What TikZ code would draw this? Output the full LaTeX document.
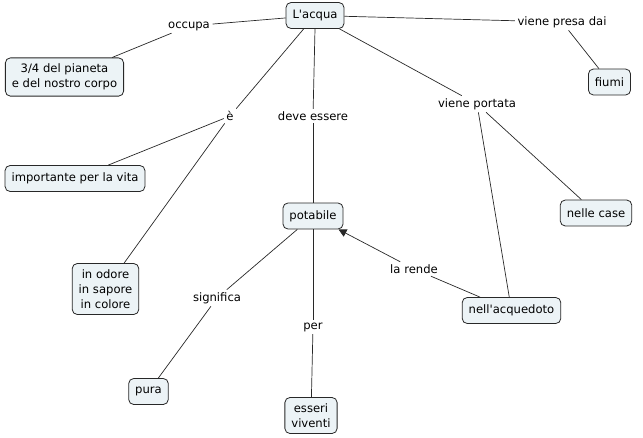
\documentclass[tikz,border=0pt]{standalone}
\usepackage{fontspec}
\setmainfont{DejaVu Sans}[Ligatures=TeXOff]
\usetikzlibrary{arrows.meta}
\definecolor{boxfill}{RGB}{236,243,246}
\definecolor{linecol}{RGB}{40,40,40}
\begin{document}
\begin{tikzpicture}[x=1pt,y=-1pt,
  concept/.style={draw=linecol, fill=boxfill, rounded corners=5pt, line width=0.8pt,
    inner xsep=6.5pt, inner ysep=6pt, minimum height=26pt, align=center,
    font=\fontsize{11.6}{15}\selectfont},
  link/.style={inner sep=2.5pt, align=center, font=\fontsize{11.6}{15}\selectfont},
  conn/.style={draw=linecol, line width=0.7pt},
]
\useasboundingbox (0,0) rectangle (643,437);
% concepts
\node[concept] (acqua) at (315,15.5) {L'acqua};
\node[concept] (pianeta) at (64.5,77) {3/4 del pianeta\\e del nostro corpo};
\node[concept] (fiumi) at (609.5,82) {fiumi};
\node[concept] (importante) at (75,178.5) {importante per la vita};
\node[concept] (potabile) at (313,216) {potabile};
\node[concept] (case) at (596,213) {nelle case};
\node[concept] (odore) at (105.5,289) {in odore\\in sapore\\in colore};
\node[concept] (acquedoto) at (511.5,310.5) {nell'acquedoto};
\node[concept] (pura) at (148.5,391.5) {pura};
\node[concept] (esseri) at (311,415.5) {esseri\\viventi};
% links
\node[link] (occupa) at (189,26) {occupa};
\node[link] (presa) at (562,22) {viene presa dai};
\node[link] (e) at (230,116) {è};
\node[link] (deve) at (313,116) {deve essere};
\node[link] (portata) at (477,104) {viene portata};
\node[link] (significa) at (217,298) {significa};
\node[link] (per) at (313,327) {per};
\node[link] (rende) at (414,269) {la rende};
% connectors
\draw[conn] (acqua) -- (occupa);
\draw[conn] (occupa) -- (pianeta);
\draw[conn] (acqua) -- (presa);
\draw[conn] (presa) -- (fiumi);
\draw[conn] (acqua) -- (portata);
\draw[conn] (portata) -- (case);
\draw[conn] (portata) -- (acquedoto);
\draw[conn] (acqua) -- (e);
\draw[conn] (e) -- (importante);
\draw[conn] (e) -- (odore);
\draw[conn] (acqua.south) -- (deve);
\draw[conn] (deve) -- (potabile.north);
\draw[conn] (potabile) -- (significa);
\draw[conn] (significa) -- (pura);
\draw[conn] (potabile) -- (per);
\draw[conn] (per) -- (esseri);
\draw[conn] (acquedoto) -- (rende);
\draw[conn, -{Triangle[length=8pt,width=8pt]}] (rende) -- (potabile);
\end{tikzpicture}
\end{document}
